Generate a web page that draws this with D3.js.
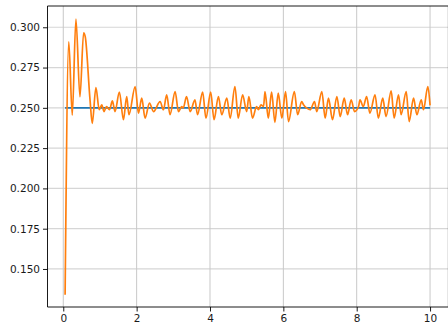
<!DOCTYPE html>
<html>
<head>
<meta charset="utf-8">
<script src="https://cdn.jsdelivr.net/npm/d3@7"></script>
<style>
  html, body { margin: 0; padding: 0; background: #ffffff; }
  svg { display: block; }
  text { font-family: "DejaVu Sans", sans-serif; }
</style>
</head>
<body>
<svg id="chart" width="448" height="326"></svg>
<script>
// ---- data ----
const xTicks = [0, 2, 4, 6, 8, 10];
const xTickLabels = ["0", "2", "4", "6", "8", "10"];
const yTicks = [0.150, 0.175, 0.200, 0.225, 0.250, 0.275, 0.300];
const yTickLabels = ["0.150", "0.175", "0.200", "0.225", "0.250", "0.275", "0.300"];

const referenceX = [0.05, 10.0];
const referenceY = [0.25, 0.25];

const responseX = [
  0.05, 0.15, 0.245, 0.345, 0.455, 0.555, 0.60, 0.73, 0.79, 0.89,
  0.98, 1.05, 1.11, 1.18, 1.26, 1.34, 1.41, 1.53, 1.64, 1.73,
  1.79, 1.96, 2.05, 2.14, 2.23, 2.35, 2.46, 2.64, 2.73, 2.82,
  2.91, 3.05, 3.14, 3.23, 3.27, 3.36, 3.46, 3.59, 3.66, 3.80,
  3.89, 4.02, 4.11, 4.23, 4.32, 4.46, 4.55, 4.68, 4.77, 4.89,
  5.00, 5.06, 5.16, 5.27, 5.32, 5.39, 5.46, 5.50, 5.59, 5.68,
  5.77, 5.86, 5.96, 6.06, 6.14, 6.30, 6.39, 6.50, 6.55, 6.64,
  6.73, 6.85, 6.91, 7.05, 7.14, 7.23, 7.34, 7.46, 7.55, 7.66,
  7.75, 7.85, 7.94, 8.05, 8.09, 8.18, 8.27, 8.36, 8.50, 8.59,
  8.71, 8.80, 8.94, 9.02, 9.14, 9.21, 9.35, 9.43, 9.55, 9.64,
  9.76, 9.82, 9.94, 10.0
];
const responseY = [
  0.134, 0.291, 0.2455, 0.305, 0.2568, 0.2966, 0.294, 0.2548, 0.2403, 0.2626,
  0.2488, 0.2519, 0.2477, 0.2508, 0.2488, 0.2543, 0.2477, 0.2597, 0.2426, 0.2570,
  0.2457, 0.2632, 0.2467, 0.2560, 0.2436, 0.2529, 0.2477, 0.2539, 0.2488, 0.2581,
  0.2457, 0.2601, 0.2477, 0.2508, 0.2498, 0.2570, 0.2477, 0.2550, 0.2457, 0.2597,
  0.2436, 0.2597, 0.2426, 0.2570, 0.2457, 0.2560, 0.2436, 0.2632, 0.2436, 0.2581,
  0.2477, 0.2570, 0.2436, 0.2508, 0.2488, 0.2519, 0.2508, 0.2601, 0.2436, 0.2597,
  0.2410, 0.2591, 0.2436, 0.2601, 0.2415, 0.2601, 0.2457, 0.2539, 0.2519, 0.2498,
  0.2488, 0.2539, 0.2477, 0.2601, 0.2436, 0.2560, 0.2426, 0.2570, 0.2446, 0.2560,
  0.2457, 0.2550, 0.2477, 0.2508, 0.2550, 0.2508, 0.2570, 0.2467, 0.2581, 0.2436,
  0.2560, 0.2446, 0.2605, 0.2436, 0.2581, 0.2457, 0.2601, 0.2415, 0.2560, 0.2457,
  0.2550, 0.2488, 0.2632, 0.2515
];

// ---- layout ----
const svg = d3.select("#chart");
const mLeft = 47.5, mRight = 448.4, mTop = 6, mBottom = 307;

const x = d3.scaleLinear().domain([-0.43, 10.5]).range([mLeft, mRight]);
const y = d3.scaleLinear().domain([0.1264, 0.3132]).range([mBottom, mTop]);

// grid
const grid = svg.append("g");
grid.selectAll("line.h").data(yTicks).enter().append("line")
  .attr("x1", mLeft).attr("x2", mRight)
  .attr("y1", d => y(d)).attr("y2", d => y(d))
  .attr("stroke", "#d6d6d6").attr("stroke-width", 1.2);
grid.selectAll("line.v").data(xTicks).enter().append("line")
  .attr("x1", d => x(d)).attr("x2", d => x(d))
  .attr("y1", mTop).attr("y2", mBottom)
  .attr("stroke", "#c8c8c8").attr("stroke-width", 1);

// lines
const line = d3.line().x(d => x(d[0])).y(d => y(d[1]));
const smoothLine = d3.line().x(d => x(d[0])).y(d => y(d[1])).curve(d3.curveMonotoneX);
svg.append("path")
  .datum(referenceX.map((v, i) => [v, referenceY[i]]))
  .attr("d", line).attr("fill", "none")
  .attr("stroke", "#1f77b4").attr("stroke-width", 1.7);
svg.append("path")
  .datum(responseX.map((v, i) => [v, responseY[i]]))
  .attr("d", smoothLine).attr("fill", "none")
  .attr("stroke", "#ff7f0e").attr("stroke-width", 1.7)
  .attr("stroke-linejoin", "round");

// axes
const xAxis = d3.axisBottom(x).tickValues(xTicks)
  .tickFormat((d, i) => xTickLabels[i]).tickSize(4.5).tickPadding(3);
const yAxis = d3.axisLeft(y).tickValues(yTicks)
  .tickFormat((d, i) => yTickLabels[i]).tickSize(4.5).tickPadding(3);

const gx = svg.append("g").attr("transform", `translate(0,${mBottom})`).call(xAxis);
const gy = svg.append("g").attr("transform", `translate(${mLeft},0)`).call(yAxis);
[gx, gy].forEach(g => {
  g.select(".domain").remove();
  g.selectAll(".tick line").attr("stroke", "#000").attr("stroke-width", 0.9);
  g.selectAll(".tick text").attr("fill", "#1a1a1a")
    .style("font-family", "'DejaVu Sans', sans-serif").style("font-size", "10.5px");
});

// spines
const spines = [
  [mLeft, mTop, mLeft, mBottom],
  [mLeft, mBottom, mRight, mBottom],
  [mLeft, mTop, mRight, mTop],
  [mRight, mTop, mRight, mBottom]
];
svg.selectAll("line.spine").data(spines).enter().append("line")
  .attr("class", "spine")
  .attr("x1", d => d[0]).attr("y1", d => d[1]).attr("x2", d => d[2]).attr("y2", d => d[3])
  .attr("stroke", "#000").attr("stroke-width", 0.9);
</script>
</body>
</html>
